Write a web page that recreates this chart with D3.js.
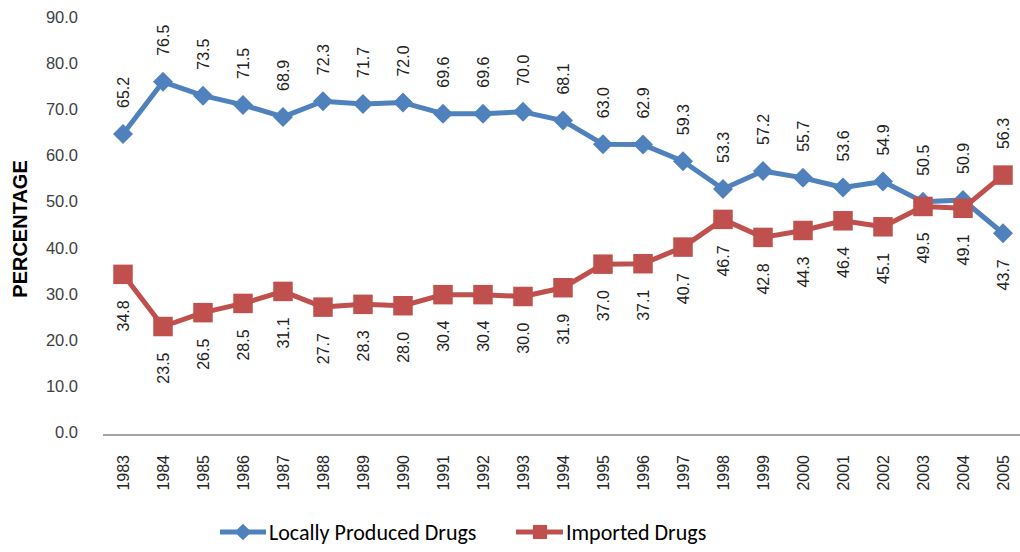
<!DOCTYPE html>
<html><head><meta charset="utf-8">
<script src="https://cdn.jsdelivr.net/npm/d3@7"></script>
<style>body{margin:0;background:#fff;} svg{display:block;}</style>
</head><body>
<svg id="chart" width="1020" height="552"></svg>
<script>
const years = ["1983","1984","1985","1986","1987","1988","1989","1990","1991","1992","1993","1994","1995","1996","1997","1998","1999","2000","2001","2002","2003","2004","2005"];
const localValues = [65.2,76.5,73.5,71.5,68.9,72.3,71.7,72.0,69.6,69.6,70.0,68.1,63.0,62.9,59.3,53.3,57.2,55.7,53.6,54.9,50.5,50.9,43.7];
const importedValues = [34.8,23.5,26.5,28.5,31.1,27.7,28.3,28.0,30.4,30.4,30.0,31.9,37.0,37.1,40.7,46.7,42.8,44.3,46.4,45.1,49.5,49.1,56.3];
const yTicks = [0,10,20,30,40,50,60,70,80,90];
const seriesNames = ["Locally Produced Drugs","Imported Drugs"];

const svg = d3.select("#chart");
const pLeft = 103, pRight = 1023, pTop = 19.5, pBottom = 435;
const x = d3.scaleBand().domain(years).range([pLeft, pRight]);
const y = d3.scaleLinear().domain([0, 90]).range([pBottom, pTop]);
const cx = d => x(d) + x.bandwidth()/2;
const FONT = "Liberation Sans, Arial, sans-serif";

// y tick labels
svg.append("g").selectAll("text").data(yTicks).join("text")
  .attr("x", 78).attr("y", d => y(d) - 2.5).attr("dy", "0.35em")
  .attr("text-anchor", "end")
  .attr("font-family", FONT).attr("font-size", 16.5)
  .attr("fill", "#404040")
  .text(d => d.toFixed(1));

// x axis line
svg.append("line").attr("x1", pLeft).attr("x2", pRight).attr("y1", pBottom).attr("y2", pBottom)
  .attr("stroke", "#868686").attr("stroke-width", 1.5);

// year labels
svg.append("g").selectAll("text").data(years).join("text")
  .attr("transform", d => `translate(${cx(d)},455) rotate(-90)`)
  .attr("text-anchor", "end").attr("dy", "0.35em")
  .attr("font-family", FONT).attr("font-size", 16)
  .attr("fill", "#262626")
  .text(d => d);

// y title
svg.append("text").attr("transform", `translate(20,229) rotate(-90)`)
  .attr("text-anchor", "middle").attr("dy", "0.35em")
  .attr("font-family", FONT).attr("font-size", 20)
  .attr("font-weight", "bold").attr("fill", "#000")
  .text("PERCENTAGE");

const line = d3.line().x((d,i) => cx(years[i])).y(d => y(d));
const blue = "#4F81BD", red = "#C0504D";

function drawSeries(vals, color, diamond) {
  svg.append("path").datum(vals).attr("d", line).attr("fill", "none")
    .attr("stroke", color).attr("stroke-width", 5).attr("stroke-linejoin", "round");
  const sym = d3.symbol().type(d3.symbolSquare).size(diamond ? 200 : 380);
  svg.append("g").selectAll("path").data(vals).join("path")
    .attr("transform", (d,i) => `translate(${cx(years[i])},${y(d)})` + (diamond ? " rotate(45)" : ""))
    .attr("d", sym()).attr("fill", color);
}

// the higher value of each year is labelled above its point, the lower below
function drawLabels(vals, other) {
  svg.append("g").selectAll("text").data(vals).join("text")
    .attr("transform", (d,i) => {
      const above = d >= other[i];
      return `translate(${cx(years[i])},${above ? y(d) - 26 : y(d) + 26}) rotate(-90)`;
    })
    .attr("text-anchor", (d,i) => d >= other[i] ? "start" : "end").attr("dy", "0.35em")
    .attr("font-family", FONT).attr("font-size", 16)
    .attr("fill", "#222")
    .text(d => d.toFixed(1));
}

drawSeries(localValues, blue, true);
drawSeries(importedValues, red, false);
drawLabels(localValues, importedValues);
drawLabels(importedValues, localValues);

// legend
const ly = 532;
const LFONT = "Carlito, Open Sans, Liberation Sans, sans-serif";
const lg = svg.append("g");
lg.append("line").attr("x1", 220).attr("x2", 266).attr("y1", ly).attr("y2", ly).attr("stroke", blue).attr("stroke-width", 5);
lg.append("path").attr("transform", `translate(243,${ly}) rotate(45)`).attr("d", d3.symbol().type(d3.symbolSquare).size(140)()).attr("fill", blue);
lg.append("text").attr("x", 269).attr("y", ly).attr("dy", "0.35em")
  .attr("font-family", LFONT).attr("font-size", 22).attr("fill", "#000")
  .text(seriesNames[0]);
lg.append("line").attr("x1", 516).attr("x2", 563).attr("y1", ly).attr("y2", ly).attr("stroke", red).attr("stroke-width", 5);
lg.append("path").attr("transform", `translate(540,${ly})`).attr("d", d3.symbol().type(d3.symbolSquare).size(200)()).attr("fill", red);
lg.append("text").attr("x", 566).attr("y", ly).attr("dy", "0.35em")
  .attr("font-family", LFONT).attr("font-size", 22).attr("fill", "#000")
  .text(seriesNames[1]);
</script>
</body></html>
